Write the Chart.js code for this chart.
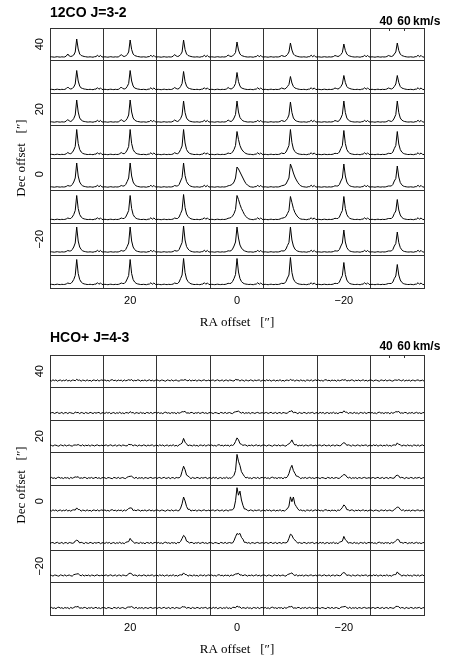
<!DOCTYPE html>
<html><head><meta charset="utf-8">
<script src="https://cdn.jsdelivr.net/npm/chart.js@4/dist/chart.umd.min.js"></script>
<style>
body{margin:0;background:#fff;width:452px;height:672px;position:relative;overflow:hidden}
canvas{position:absolute;left:0}
</style>
</head><body>
<canvas id="c1" width="452" height="340" style="top:0px"></canvas>
<canvas id="c2" width="452" height="340" style="top:327px"></canvas>
<script>
// ---------- axes / grid data ----------
const raOffsets  = [30, 20, 10, 0, -10, -20, -30];          // column centres ["]
const decOffsets = [40, 30, 20, 10, 0, -10, -20, -30];      // row centres ["]
const raTickLabels  = [20, 0, -20];
const decTickLabels = [40, 20, 0, -20];
const velTicks = [40, 60];                                   // km/s
const velocity = [15,17,19,21,23,25,27,29,31,33,35,37,39,41,43,45,47,49,51,53,55,57,59,61,63,65,67,69,71,73,75,77,79,81,83,85,87];
const WIN0 = 11; // line-profile window starts at velocity[11] = 37 km/s

// ---------- 12CO J=3-2 ----------
const coBaseline = [0,0.2,0,-0.2,0.1,0.3,0,-0.1,0.2,0,0.1, 0,0,0,0,0,0,0,0,0,0,0,0,0,0,0,0, 0.2,0,-0.2,0.3,0.4,1.8,0.2,1.6,0.1,-0.1];
const coDec40 = [
 [1,3,1,0.5,1,2,5,18,8,3,1.5,1,0.5,0.3,0,0],
 [1,2.5,1,0.5,1,2.5,5,17,7.5,3,1.5,1,0.5,0.3,0,0],
 [0.8,2.5,1,0.5,1,2.5,5,17,7.5,3,1.5,1,0.5,0.2,0,0],
 [0.6,2,1,0.5,1,2.5,4.5,15,7,3,1.5,1,0.5,0.2,0,0],
 [0.5,1.5,1,0.5,1,2.5,5,14,7,3,1.5,1,0.5,0.2,0,0],
 [0.5,1.5,1,0.5,1,2.5,4.5,13,6.5,3,1.5,1,0.5,0.2,0,0],
 [0.5,1.5,1,0.5,1,3,5,14,6.5,3,1.5,1,0.5,0.2,0,0]];
const coDec30 = [
 [1,2.5,1,0.5,1,2.5,5.5,19,8.5,3.5,1.5,1,0.5,0.3,0,0],
 [1,2.5,1,0.5,1,3,6,19,8.5,3.5,1.5,1,0.5,0.3,0,0],
 [0.8,2,1,0.5,1,3,6,18,8,3.5,1.5,1,0.5,0.2,0,0],
 [0.6,2,1,0.5,1.2,3,6,17,8,3.5,1.5,1,0.5,0.2,0,0],
 [0.5,1.5,1,0.5,1.2,3,5,13,6.5,3,1.5,1,0.5,0.2,0,0],
 [0.5,1.5,1,0.5,1.2,3,5.5,14,7,3,1.5,1,0.5,0.2,0,0],
 [0.5,1.5,1,0.5,1.2,3,5.5,14,7,3,1.5,1,0.5,0.2,0,0]];
const coDec20 = [
 [1,2.5,1,0.5,1.5,3.5,7,22,10,4,2,1,0.5,0.3,0,0],
 [1,2.5,1,0.5,1.5,3.5,7,22,10,4,2,1,0.5,0.3,0,0],
 [0.8,2,1,0.5,1.5,3.5,7,21,9.5,4,2,1,0.5,0.2,0,0],
 [0.6,2,1,0.5,1.5,4,7.5,21,10,4.5,2.5,1.2,0.6,0.3,0,0],
 [0.5,1.5,1,0.5,1.5,3.5,7,20,9.5,4,2,1,0.5,0.2,0,0],
 [0.5,1.5,1,0.5,1.5,4,7.5,21,9.5,4,2,1,0.5,0.2,0,0],
 [0.5,1.5,1,0.5,1.5,4,7.5,21,9.5,4,2,1,0.5,0.2,0,0]];
const coDec10 = [
 [0.8,2,1,0.8,2,4.5,8,25,11,5,2.5,1.2,0.6,0.3,0,0],
 [0.8,2,1,0.8,2,4.5,8,25,11,5,2.5,1.2,0.6,0.3,0,0],
 [0.6,1.8,1,0.8,2,5,8.5,25,11.5,5,2.5,1.2,0.6,0.3,0,0],
 [0.6,1.5,1,1,2.5,5,9,23,15,9,5.5,3.5,2,1,0.5,0.2],
 [0.5,1.5,1,1,2.5,5.5,9,25,12,5.5,3,1.5,0.8,0.4,0.2,0],
 [0.5,1.2,1,1,2.5,6,9,24,11,5,2.5,1.2,0.6,0.3,0,0],
 [0.5,1.2,1,1,2.5,6,9,23,10.5,5,2.5,1.2,0.6,0.3,0,0]];
const coDec0 = [
 [0.6,1.5,1,1,2.5,5,9,24,11,5,2.5,1.2,0.6,0.3,0,0],
 [0.6,1.5,1,1,2.5,5.5,9,24,11,5,2.5,1.2,0.6,0.3,0,0],
 [0.5,1.5,1,1,2.5,6,9.5,24,11.5,5.5,3,1.5,0.7,0.3,0,0],
 [0.5,1.2,1.5,2,3,5,9,20,18,15,12,9,6,3.5,2,1],
 [0.5,1.2,1.5,2,3,6,9,23,19,14,10,7,4.5,2.5,1.2,0.5],
 [0.5,1.2,1,1,2.5,6,9,23,11,5,2.5,1.2,0.6,0.3,0,0],
 [0.5,1,1,1,2.5,6,8.5,21,10,4.5,2.2,1,0.5,0.2,0,0]];
const coDecM10 = [
 [0.6,1.5,1,1,2.5,5,9,24,11,5,2.5,1.2,0.6,0.3,0,0],
 [0.6,1.5,1,1,2.5,5.5,9,24,11,5,2.5,1.2,0.6,0.3,0,0],
 [0.5,1.5,1,1,2.5,6,9.5,25,12,5.5,3,1.5,0.7,0.3,0,0],
 [0.5,1.2,1.5,2,3.5,6,10,24,20,15,11,8,5,3,1.5,0.6],
 [0.5,1.2,1.5,2,3,6,9,23,17,11,7,4.5,2.5,1.2,0.5,0.2],
 [0.5,1.2,1,1,2.5,6,9,23,11,5,2.5,1.2,0.6,0.3,0,0],
 [0.5,1,1,1,2.5,6,8.5,20,9.5,4.5,2.2,1,0.5,0.2,0,0]];
const coDecM20 = [
 [0.6,1.5,1,1,2.5,5,9,25,11,5,2.5,1.2,0.6,0.3,0,0],
 [0.6,1.5,1,1,2.5,5.5,9,25,11,5,2.5,1.2,0.6,0.3,0,0],
 [0.5,1.5,1,1,2.5,6,9.5,26,12,5.5,3,1.5,0.7,0.3,0,0],
 [0.5,1.2,1,1.2,3,6,10,25,14,7,4,2.2,1.2,0.6,0.2,0],
 [0.5,1.2,1,1.2,3,6.5,9.5,25,12,6,3,1.5,0.8,0.4,0.2,0],
 [0.5,1.2,1,1,2.5,6,9,22,10,4.5,2.2,1,0.5,0.2,0,0],
 [0.5,1,1,1,2.5,6,8.5,20,9.5,4.5,2.2,1,0.5,0.2,0,0]];
const coDecM30 = [
 [0.6,1.5,1,1,2.5,5,9,25,11,5,2.5,1.2,0.6,0.3,0,0],
 [0.6,1.5,1,1,2.5,5.5,9,25,11,5,2.5,1.2,0.6,0.3,0,0],
 [0.5,1.5,1,1,2.5,6,9.5,26,12,5.5,3,1.5,0.7,0.3,0,0],
 [0.5,1.2,1,1.2,3,6,10,26,12.5,6,3,1.5,0.8,0.4,0.2,0],
 [0.5,1.2,1,1.2,3,6.5,9.5,27,12,5.5,3,1.5,0.8,0.4,0.2,0],
 [0.5,1.2,1,1,2.5,6,9,22,10,4.5,2.2,1,0.5,0.2,0,0],
 [0.5,1,1,1,2.5,6,8.5,20,9.5,4.5,2.2,1,0.5,0.2,0,0]];

// ---------- HCO+ J=4-3 ----------
const hcoNoiseA = [0.4,-0.5,0.7,-0.2,0.6,-0.7,0.1,0.5,-0.6,0.3,-0.3,0.8,-0.5,0.2,-0.7,0.4,0.3,-0.6,0.6,-0.2,0.5,-0.7,0.4,0.1,-0.5,0.7,-0.3,0.2,-0.8,0.5,0.3,-0.4,0.7,-0.6,0.2,0.6,-0.3];
const hcoNoiseB = [-0.3,0.6,-0.4,0.2,-0.7,0.5,0.8,-0.2,0.3,-0.6,0.5,-0.1,0.4,-0.8,0.6,-0.3,0.1,0.5,-0.4,0.7,-0.6,0.2,-0.3,0.6,0.4,-0.7,0.3,-0.2,0.6,-0.5,0.1,0.7,-0.4,0.3,-0.6,0.2,0.5];
const hcoNoiseC = [0.6,0.1,-0.6,0.4,0.3,-0.3,-0.7,0.6,0.2,-0.4,0.7,-0.5,0.1,0.5,-0.3,-0.6,0.4,0.2,-0.5,0.6,0.1,-0.4,0.8,-0.6,0.3,-0.2,0.5,-0.7,0.4,0.2,-0.5,0.3,0.6,-0.3,-0.1,0.4,-0.6];
const hcoNoiseD = [-0.6,0.3,0.5,-0.5,0.2,0.7,-0.4,-0.1,0.6,-0.7,0.3,0.4,-0.6,0.5,0.2,-0.3,-0.5,0.7,-0.2,0.3,-0.6,0.5,0.2,-0.7,0.6,-0.1,-0.4,0.6,0.2,-0.6,0.5,-0.2,0.3,0.6,-0.7,0.1,0.4];
const hcoDec40 = [
 [0,0,0,0,0,0,0.3,0.6,0.3,0,0,0,0,0,0,0],
 [0,0,0,0,0,0,0.3,0.5,0.3,0,0,0,0,0,0,0],
 [0,0,0,0,0,0,0.3,0.7,0.4,0,0,0,0,0,0,0],
 [0,0,0,0,0,0,0.4,0.8,0.4,0,0,0,0,0,0,0],
 [0,0,0,0,0,0,0.3,0.6,0.3,0,0,0,0,0,0,0],
 [0,0,0,0,0,0,0.3,0.6,0.3,0,0,0,0,0,0,0],
 [0,0,0,0,0,0,0.3,0.6,0.3,0,0,0,0,0,0,0]];
const hcoDec30 = [
 [0,0,0,0,0,0,0.2,0.5,0.3,0,0,0,0,0,0,0],
 [0,0,0,0,0,0,0.3,0.8,0.4,0,0,0,0,0,0,0],
 [0,0,0,0,0,0.3,0.8,1.6,1,0.4,0,0,0,0,0,0],
 [0,0,0,0,0,0.4,1,2,1.3,0.6,0.2,0,0,0,0,0],
 [0,0,0,0,0,0.3,0.8,1.8,2,0.8,0.3,0,0,0,0,0],
 [0,0,0,0,0,0.3,0.8,1.6,1,0.4,0,0,0,0,0,0],
 [0,0,0,0,0,0.3,0.8,1.5,0.9,0.3,0,0,0,0,0,0]];
const hcoDec20 = [
 [0,0,0,0,0,0,0.3,0.8,0.4,0,0,0,0,0,0,0],
 [0,0,0,0,0,0.2,0.5,1,0.6,0.2,0,0,0,0,0,0],
 [0,0,0,0,0.3,1,3,6.5,3.5,1.2,0.4,0,0,0,0,0],
 [0,0,0,0,0.3,1,3.5,8,5,2.5,1,0.4,0,0,0,0],
 [0,0,0,0,0,0.5,1.5,3.5,5,2.2,0.8,0.3,0,0,0,0],
 [0,0,0,0,0,0.5,1.2,3,1.8,0.7,0.2,0,0,0,0,0],
 [0,0,0,0,0,0.3,0.8,2,1.2,0.4,0,0,0,0,0,0]];
const hcoDec10 = [
 [0,0,0,0,0,0.3,0.6,1.2,0.6,0.2,0,0,0,0,0,0],
 [0,0,0,0,0,0.5,1.2,2.2,1.2,0.4,0,0,0,0,0,0],
 [0,0,0,0,0.5,2,6,12,8,3.5,1.5,0.5,0,0,0,0],
 [0,0,0,0.3,0.8,2.5,8,23,17,12,7,3.5,1.5,0.5,0,0],
 [0,0,0,0,0.4,1.2,4,10,12,8,4.5,2.2,1,0.3,0,0],
 [0,0,0,0,0.2,0.8,2,4,2.5,1,0.4,0,0,0,0,0],
 [0,0,0,0,0,0.5,1.5,3,1.8,0.6,0.2,0,0,0,0,0]];
const hcoDec0 = [
 [0,0,0,0,0,0.4,1,2,1.2,0.4,0,0,0,0,0,0],
 [0,0,0,0,0,0.6,1.5,3,1.8,0.6,0.2,0,0,0,0,0],
 [0,0,0,0,0.5,2,6.5,14,9,4,1.5,0.5,0,0,0,0],
 [0,0,0,0.3,1,3,9,23,15,20,10,5,2.2,0.8,0.3,0],
 [0,0,0,0,0.5,1.5,5,13,9,13,7,3.5,1.5,0.5,0,0],
 [0,0,0,0,0.3,1,2.5,6,3.5,1.5,0.5,0,0,0,0,0],
 [0,0,0,0,0.2,0.6,1.8,4,2.5,1,0.3,0,0,0,0,0]];
const hcoDecM10 = [
 [0,0,0,0,0,0.5,1.3,3,1.8,0.6,0.2,0,0,0,0,0],
 [0,0,0,0,0.2,0.8,2,4,2.5,1,0.3,0,0,0,0,0],
 [0,0,0,0,0.4,1.5,4,8,5.5,2.5,1,0.3,0,0,0,0],
 [0,0,0,0.2,0.6,2,6,10,8,9.5,6,3,1.2,0.4,0,0],
 [0,0,0,0,0.4,1.5,4,9,7.5,5,2.5,1.2,0.4,0,0,0],
 [0,0,0,0,0.3,1,2.5,6,3.5,1.5,0.5,0,0,0,0,0],
 [0,0,0,0,0.2,0.6,1.8,4,2.5,1,0.3,0,0,0,0,0]];
const hcoDecM20 = [
 [0,0,0,0,0,0.4,1,2,1.2,0.4,0,0,0,0,0,0],
 [0,0,0,0,0,0.5,1.2,2.5,1.5,0.5,0,0,0,0,0,0],
 [0,0,0,0,0,0.4,1,2,1.2,0.4,0,0,0,0,0,0],
 [0,0,0,0,0.2,0.5,1,2,1.5,1,0.4,0,0,0,0,0],
 [0,0,0,0,0,0.5,1.2,2.5,2,0.8,0.3,0,0,0,0,0],
 [0,0,0,0,0,0.6,1.5,3.2,1.8,0.6,0,0,0,0,0,0],
 [0,0,0,0,0,0.6,1.5,3,1.8,0.6,0,0,0,0,0,0]];
const hcoDecM30 = [
 [0,0,0,0,0,0.3,0.8,1.5,0.9,0.3,0,0,0,0,0,0],
 [0,0,0,0,0,0.3,0.8,1.4,0.9,0.3,0,0,0,0,0,0],
 [0,0,0,0,0,0.3,0.7,1.3,0.8,0.3,0,0,0,0,0,0],
 [0,0,0,0,0.2,0.4,0.8,1.4,1.2,0.6,0.2,0,0,0,0,0],
 [0,0,0,0,0,0.3,0.8,1.6,1,0.3,0,0,0,0,0,0],
 [0,0,0,0,0,0.4,0.9,1.8,1,0.3,0,0,0,0,0,0],
 [0,0,0,0,0,0.4,0.9,1.8,1,0.3,0,0,0,0,0,0]];

// ---------- drawing ----------
const VMIN = velocity[0], VMAX = velocity[velocity.length - 1];
const CELL = 10; // arcsec per map cell

function buildDatasets(rows, baselines, tRange) {
  const ds = [];
  rows.forEach((row, r) => row.forEach((prof, c) => {
    const base = baselines[(r * 7 + c) % baselines.length];
    const data = velocity.map((v, i) => {
      const k = i - WIN0;
      const T = base[i] + (k >= 0 && k < prof.length ? prof[k] : 0);
      return {
        x: raOffsets[c] + CELL / 2 - (v - VMIN) / (VMAX - VMIN) * CELL,
        y: decOffsets[r] - CELL / 2 + (T - tRange[0]) / (tRange[1] - tRange[0]) * CELL
      };
    });
    ds.push({data, borderColor: '#000', borderWidth: 1, pointRadius: 0, showLine: true, fill: false, tension: 0});
  }));
  return ds;
}

const minus = v => String(v).replace('-', '\u2212');
const isBoundary = v => Math.abs(Math.round(v)) % 10 === 5;
const gridColor = ctx => (ctx.tick && isBoundary(ctx.tick.value)) ? '#333' : 'rgba(0,0,0,0)';
const steps = (a, b) => { const t = []; for (let v = a; v <= b; v += 5) t.push({value: v}); return t; };

const panelLabels = {
  id: 'panelLabels',
  afterDraw(chart, args, opts) {
    const ctx = chart.ctx, xv = chart.scales.xv, area = chart.chartArea;
    ctx.save();
    ctx.fillStyle = '#000';
    ctx.textBaseline = 'middle';
    ctx.textAlign = 'left';
    ctx.font = 'bold 14px "Liberation Sans", Arial, sans-serif';
    ctx.fillText(opts.title, area.left, opts.titleY);
    ctx.font = 'bold 12px "Liberation Sans", Arial, sans-serif';
    const p0 = xv.getPixelForValue(velTicks[0]), p1 = xv.getPixelForValue(velTicks[1]);
    ctx.textAlign = 'center';
    ctx.fillText(String(velTicks[0]), p0 - 3, opts.unitY);
    ctx.fillText(String(velTicks[1]), p1, opts.unitY);
    ctx.textAlign = 'left';
    ctx.fillText('km/s', p1 + 9, opts.unitY);
    ctx.strokeStyle = '#333'; ctx.lineWidth = 1;
    ctx.beginPath();
    velTicks.forEach(v => { const p = Math.round(xv.getPixelForValue(v)) + 0.5; ctx.moveTo(p, area.top); ctx.lineTo(p, area.top + 3); });
    ctx.stroke();
    ctx.restore();
  }
};

function makeChart(id, rows, baselines, tRange, title, titleY, unitY) {
  return new Chart(document.getElementById(id), {
    type: 'scatter',
    data: {datasets: buildDatasets(rows, baselines, tRange)},
    plugins: [panelLabels],
    options: {
      responsive: false, animation: false, devicePixelRatio: 1,
      layout: {padding: {top: 28, right: 28, bottom: 0, left: 0}},
      plugins: {legend: {display: false}, tooltip: {enabled: false},
        panelLabels: {title, titleY, unitY}},
      scales: {
        x: {
          type: 'linear', min: -35, max: 35, reverse: true,
          afterBuildTicks: s => { s.ticks = steps(-35, 35); },
          afterFit: s => { s.height = 52; },
          grid: {color: gridColor, drawTicks: false, lineWidth: 1},
          border: {display: true, color: '#333'},
          ticks: {autoSkip: false, maxRotation: 0, padding: 6, color: '#000',
            font: {family: '"Liberation Sans", Arial, sans-serif', size: 11},
            callback: v => raTickLabels.includes(v) ? minus(v) : ''},
          title: {display: true, text: 'RA offset   [\u2033]', color: '#000',
            font: {family: '"Liberation Serif", "Times New Roman", serif', size: 13},
            padding: {top: 0, bottom: 10}}
        },
        y: {
          type: 'linear', min: -35, max: 45,
          afterBuildTicks: s => { s.ticks = steps(-35, 45); },
          afterFit: s => { s.width = 50; },
          grid: {color: gridColor, drawTicks: false, lineWidth: 1},
          border: {display: true, color: '#333'},
          ticks: {autoSkip: false, minRotation: 90, maxRotation: 90, crossAlign: 'center', padding: 1, color: '#000',
            font: {family: '"Liberation Sans", Arial, sans-serif', size: 11},
            callback: v => decTickLabels.includes(v) ? minus(v) : ''},
          title: {display: true, text: 'Dec offset   [\u2033]', color: '#000',
            font: {family: '"Liberation Serif", "Times New Roman", serif', size: 13},
            padding: {top: 14, bottom: 0}}
        },
        xv: {
          type: 'linear', position: 'top',
          min: VMIN - (raOffsets.length - 1) * (VMAX - VMIN), max: VMAX,
          afterFit: s => { s.height = 0; },
          grid: {display: false}, border: {display: false}, ticks: {display: false}
        }
      }
    }
  });
}

makeChart('c1', [coDec40, coDec30, coDec20, coDec10, coDec0, coDecM10, coDecM20, coDecM30],
  [coBaseline], [-3.5, 29], '12CO J=3-2', 13, 22);
makeChart('c2', [hcoDec40, hcoDec30, hcoDec20, hcoDec10, hcoDec0, hcoDecM10, hcoDecM20, hcoDecM30],
  [hcoNoiseA, hcoNoiseB, hcoNoiseC, hcoNoiseD], [-7, 25.5], 'HCO+ J=4-3', 11, 20);
</script>
</body></html>
